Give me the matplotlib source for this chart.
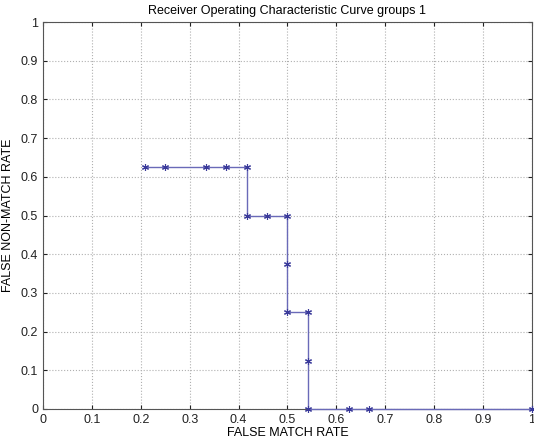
import matplotlib
matplotlib.use("Agg")
import matplotlib.pyplot as plt

plt.rcParams['font.family'] = ['Liberation Sans', 'DejaVu Sans']

fmr = [0.208, 0.25, 0.333, 0.375, 0.417, 0.417, 0.458, 0.5, 0.5, 0.5, 0.542, 0.542, 0.542, 0.625, 0.667, 1.0]
fnmr = [0.625, 0.625, 0.625, 0.625, 0.625, 0.5, 0.5, 0.5, 0.375, 0.25, 0.25, 0.125, 0.0, 0.0, 0.0, 0.0]
xticks = [0, 0.1, 0.2, 0.3, 0.4, 0.5, 0.6, 0.7, 0.8, 0.9, 1]
xticklabels = ['0', '0.1', '0.2', '0.3', '0.4', '0.5', '0.6', '0.7', '0.8', '0.9', '1']

fig = plt.figure(figsize=(5.34, 4.41), dpi=100)
ax = fig.add_axes([0.0805, 0.0726, 0.9155, 0.8774])
ax.plot(fmr, fnmr, '-', color='#6a6ab8', lw=1.0, clip_on=False, zorder=3)
ax.plot(fmr, fnmr, linestyle='none', marker=(6, 2, 0), markersize=5,
        markeredgewidth=0.8, color='#3a3a9a', clip_on=False, zorder=4)
ax.set_xlim(0, 1)
ax.set_ylim(0, 1)
ax.set_xticks(xticks)
ax.set_xticklabels(xticklabels)
ax.set_yticks(xticks)
ax.set_yticklabels(xticklabels)
ax.grid(True, linestyle=':', color='#b0b0b0', linewidth=0.8)
ax.tick_params(direction='in', length=3, labelsize=9, colors='#222222', top=True, right=True)
for s in ax.spines.values():
    s.set_color('#555555')
    s.set_linewidth(0.8)
ax.set_title('Receiver Operating Characteristic Curve groups 1', fontsize=9, pad=6)
ax.set_xlabel('FALSE MATCH RATE', fontsize=9, labelpad=1)
ax.set_ylabel('FALSE NON-MATCH RATE', fontsize=9, labelpad=5)
fig.savefig('out.png', dpi=100)
